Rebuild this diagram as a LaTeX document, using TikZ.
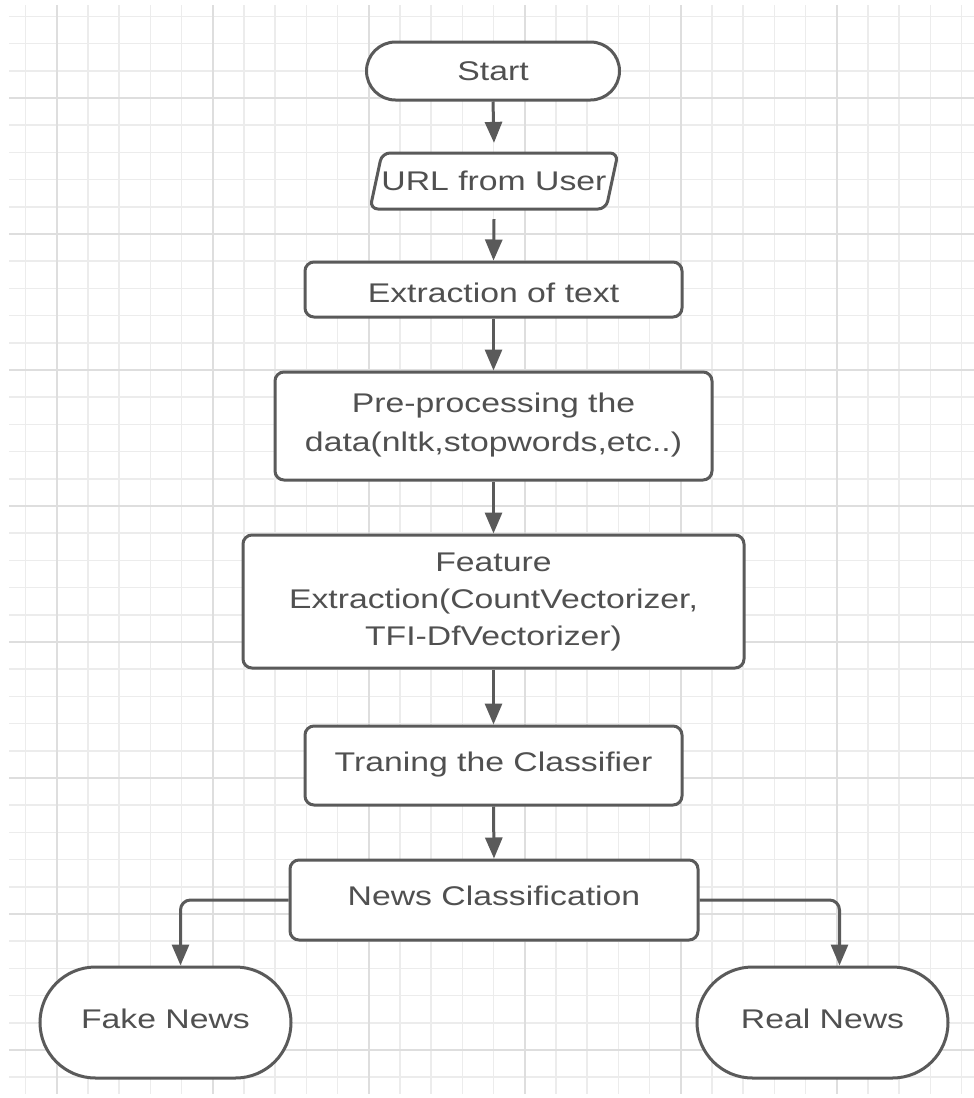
\documentclass[tikz,border=0pt]{standalone}
\usepackage{fontspec}
\setmainfont{Liberation Sans}[FakeStretch=1.25]
\usetikzlibrary{shapes.misc,arrows.meta,calc}
\definecolor{linec}{HTML}{5A5A5A}
\definecolor{textc}{HTML}{505050}
\definecolor{gridminor}{HTML}{ECECEC}
\definecolor{gridmajor}{HTML}{DEDEDE}
\newcommand{\up}[1]{\raisebox{8pt}{#1}}
\begin{document}
\begin{tikzpicture}[x=1pt,y=-1pt,
  every node/.style={font=\fontsize{27}{37}\selectfont, text=textc},
  procbox/.style={draw=linec, line width=3pt, rounded corners=9pt, fill=white, align=center, inner sep=0pt},
  termbox/.style={draw=linec, line width=3pt, rounded rectangle, fill=white, inner sep=0pt},
  conn/.style={draw=linec, line width=3pt, -{Triangle[length=21pt,width=17pt]}, rounded corners=10pt}
]
\fill[white] (0,0) rectangle (974,1098);
\useasboundingbox (0,0) rectangle (974,1098);
% grid
\begin{scope}
\clip (9,5) rectangle (974,1094);
\foreach \k in {0,...,30} {
  \pgfmathsetmacro\xx{25.6+31.2*\k}
  \draw[gridminor, line width=1.6pt] (\xx,5) -- (\xx,1094);
}
\foreach \k in {0,...,40} {
  \pgfmathsetmacro\yy{16.4+27.2*\k}
  \draw[gridminor, line width=1.6pt] (9,\yy) -- (974,\yy);
}
\foreach \k in {1,6,11,16,21,26} {
  \pgfmathsetmacro\xx{25.6+31.2*\k}
  \draw[gridmajor, line width=2pt] (\xx,5) -- (\xx,1094);
}
\foreach \k in {3,8,13,18,23,28,33,38} {
  \pgfmathsetmacro\yy{16.4+27.2*\k}
  \draw[gridmajor, line width=2pt] (9,\yy) -- (974,\yy);
}
\end{scope}

% nodes
\node[termbox, minimum width=253pt, minimum height=58pt] (start) at (493,71) {Start};
\node[inner sep=0pt] (url) at (494,181) {URL from User};
\draw[linec, line width=3pt, rounded corners=8pt, fill=white]
  ($(url)+(-112,-28)$) -- ($(url)+(124,-28)$) -- ($(url)+(112,28)$) -- ($(url)+(-124,28)$) -- cycle;
\node[inner sep=0pt] at (url) {URL from User};
\node[procbox, minimum width=377pt, minimum height=55pt] (ext) at (493.5,289.5) {\rule{0pt}{27pt}Extraction of text};
\node[procbox, minimum width=437pt, minimum height=108pt, font=\fontsize{27}{39}\selectfont] (pre) at (493.5,426) {Pre-processing the\\data(nltk,stopwords,etc..)\rule[-8pt]{0pt}{1pt}};
\node[procbox, minimum width=501pt, minimum height=133pt] (feat) at (493.5,601.5) {Feature\\Extraction(CountVectorizer,\\TFI-DfVectorizer)};
\node[procbox, minimum width=377pt, minimum height=79pt] (train) at (493.5,765.5) {\up{Traning the Classifier}};
\node[procbox, minimum width=408pt, minimum height=80pt] (news) at (494,900) {\up{News Classification}};
\node[termbox, minimum width=251pt, minimum height=111pt] (fake) at (165.5,1022.5) {\up{Fake News}};
\node[termbox, minimum width=251pt, minimum height=111pt] (real) at (822.5,1022.5) {\up{Real News}};

% connectors
\draw[conn] (start.south) -- ($(url.north)+(0,-28)$);
\draw[conn] ($(url.south)+(0,28)$) -- (ext.north);
\draw[conn] (ext.south) -- (pre.north);
\draw[conn] (pre.south) -- (feat.north);
\draw[conn] (feat.south) -- (train.north);
\draw[conn] (train.south) -- (news.north);
\draw[conn] (news.west) -| ([xshift=15pt]fake.north);
\draw[conn] (news.east) -| ([xshift=17pt]real.north);
\end{tikzpicture}
\end{document}
